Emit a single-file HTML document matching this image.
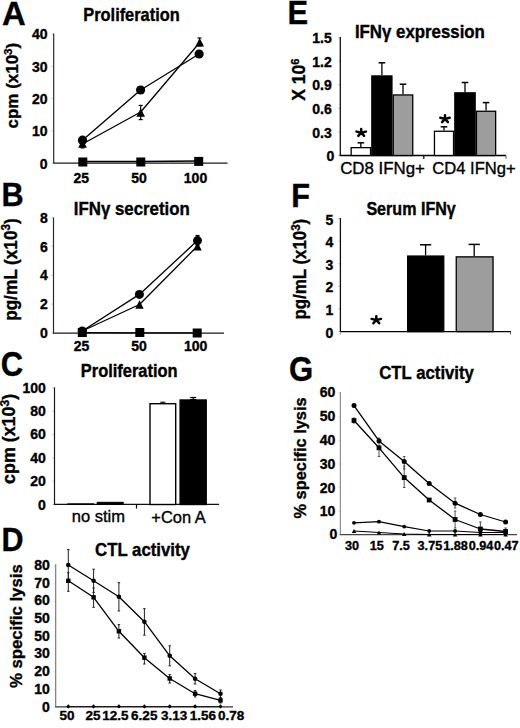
<!DOCTYPE html>
<html><head><meta charset="utf-8"><style>
html,body{margin:0;padding:0;background:#fff;}
body{width:520px;height:728px;overflow:hidden;}
svg{display:block;}
text{font-family:"Liberation Sans", sans-serif;fill:#000;}
</style></head><body>
<svg width="520" height="728" viewBox="0 0 520 728">
<text x="2.1" y="25.4" font-size="32.84" font-weight="bold" text-anchor="start" stroke="#000" stroke-width="0.35">A</text>
<text x="83.3" y="20.9" font-size="16.38" font-weight="bold" text-anchor="start" transform="translate(83.3 20.9) scale(1 1.1) translate(-83.3 -20.9)" stroke="#000" stroke-width="0.35">Proliferation</text>
<line x1="51.5" y1="163.0" x2="53.7" y2="163.0" stroke="#bbb" stroke-width="0.8"/>
<line x1="51.5" y1="130.8" x2="53.7" y2="130.8" stroke="#bbb" stroke-width="0.8"/>
<line x1="51.5" y1="98.6" x2="53.7" y2="98.6" stroke="#bbb" stroke-width="0.8"/>
<line x1="51.5" y1="66.4" x2="53.7" y2="66.4" stroke="#bbb" stroke-width="0.8"/>
<line x1="51.5" y1="34.2" x2="53.7" y2="34.2" stroke="#bbb" stroke-width="0.8"/>
<line x1="53.7" y1="33.6" x2="53.7" y2="163.1" stroke="#2a2a2a" stroke-width="1.2"/>
<line x1="53.1" y1="163.1" x2="227.5" y2="163.1" stroke="#1a1a1a" stroke-width="1.3"/>
<text x="47.6" y="168.77" font-size="14" font-weight="bold" text-anchor="end" stroke="#000" stroke-width="0.35">0</text>
<text x="47.6" y="136.43" font-size="14" font-weight="bold" text-anchor="end" stroke="#000" stroke-width="0.35">10</text>
<text x="47.6" y="104.09" font-size="14" font-weight="bold" text-anchor="end" stroke="#000" stroke-width="0.35">20</text>
<text x="47.6" y="71.75" font-size="14" font-weight="bold" text-anchor="end" stroke="#000" stroke-width="0.35">30</text>
<text x="47.6" y="39.41" font-size="14" font-weight="bold" text-anchor="end" stroke="#000" stroke-width="0.35">40</text>
<text x="81.3" y="182.6" font-size="14" font-weight="bold" text-anchor="middle" stroke="#000" stroke-width="0.35">25</text>
<text x="139" y="182.6" font-size="14" font-weight="bold" text-anchor="middle" stroke="#000" stroke-width="0.35">50</text>
<text x="195.5" y="182.6" font-size="14" font-weight="bold" text-anchor="middle" stroke="#000" stroke-width="0.35">100</text>
<text x="17.66" y="85.64" font-size="16.97" font-weight="bold" text-anchor="middle" transform="rotate(-90 17.66 85.64)" stroke="#000" stroke-width="0.35">cpm (x10<tspan style="font-size:68%" dy="-0.5em">3</tspan><tspan dy="0.34em">)</tspan></text>
<polyline points="82.5,140.2 140.6,90 199.1,54" fill="none" stroke="#000" stroke-width="1.3" stroke-linejoin="round"/>
<polyline points="82.5,144 140.7,112 199.7,42.5" fill="none" stroke="#000" stroke-width="1.3" stroke-linejoin="round"/>
<polyline points="82.8,161.5 140.8,161.5 198.7,161" fill="none" stroke="#000" stroke-width="1.3" stroke-linejoin="round"/>
<line x1="140.7" y1="105.4" x2="140.7" y2="119.6" stroke="#000" stroke-width="1.2"/>
<line x1="138.7" y1="105.4" x2="142.7" y2="105.4" stroke="#000" stroke-width="1.2"/>
<line x1="138.7" y1="119.6" x2="142.7" y2="119.6" stroke="#000" stroke-width="1.2"/>
<line x1="199.5" y1="38" x2="199.5" y2="46" stroke="#000" stroke-width="1.2"/>
<line x1="197.5" y1="38" x2="201.5" y2="38" stroke="#000" stroke-width="1.2"/>
<line x1="197.5" y1="46" x2="201.5" y2="46" stroke="#000" stroke-width="1.2"/>
<line x1="82.5" y1="140" x2="82.5" y2="147.9" stroke="#000" stroke-width="1.2"/>
<line x1="80.5" y1="140" x2="84.5" y2="140" stroke="#000" stroke-width="1.2"/>
<line x1="80.5" y1="147.9" x2="84.5" y2="147.9" stroke="#000" stroke-width="1.2"/>
<circle cx="82.5" cy="140.2" r="4.6" fill="#000"/>
<circle cx="140.6" cy="90" r="4.6" fill="#000"/>
<circle cx="199.1" cy="54" r="4.6" fill="#000"/>
<polygon points="78.2,147.8 86.8,147.8 82.5,139.2" fill="#000"/>
<polygon points="136.4,116.8 145.0,116.8 140.7,108.2" fill="#000"/>
<polygon points="195.4,46.6 204.0,46.6 199.7,38.0" fill="#000"/>
<rect x="78.3" y="157.5" width="9" height="9" fill="#000"/>
<rect x="136.3" y="157.5" width="9" height="9" fill="#000"/>
<rect x="194.2" y="156.9" width="9" height="9" fill="#000"/>
<text x="1.4" y="206.4" font-size="33.01" font-weight="bold" text-anchor="start" transform="translate(1.4 206.4) scale(0.93 1) translate(-1.4 -206.4)" stroke="#000" stroke-width="0.35">B</text>
<text x="73.8" y="214.8" font-size="16.83" font-weight="bold" text-anchor="start" transform="translate(73.8 214.8) scale(1 1.1) translate(-73.8 -214.8)" stroke="#000" stroke-width="0.35">IFNγ secretion</text>
<line x1="51.3" y1="333.0" x2="53.5" y2="333.0" stroke="#bbb" stroke-width="0.8"/>
<line x1="51.3" y1="304.1" x2="53.5" y2="304.1" stroke="#bbb" stroke-width="0.8"/>
<line x1="51.3" y1="275.2" x2="53.5" y2="275.2" stroke="#bbb" stroke-width="0.8"/>
<line x1="51.3" y1="246.3" x2="53.5" y2="246.3" stroke="#bbb" stroke-width="0.8"/>
<line x1="51.3" y1="217.4" x2="53.5" y2="217.4" stroke="#bbb" stroke-width="0.8"/>
<line x1="53.5" y1="217.5" x2="53.5" y2="333.1" stroke="#2a2a2a" stroke-width="1.2"/>
<line x1="52.9" y1="333.1" x2="224" y2="333.1" stroke="#1a1a1a" stroke-width="1.3"/>
<text x="47.8" y="337.67" font-size="14" font-weight="bold" text-anchor="end" stroke="#000" stroke-width="0.35">0</text>
<text x="47.8" y="308.97" font-size="14" font-weight="bold" text-anchor="end" stroke="#000" stroke-width="0.35">2</text>
<text x="47.8" y="280.27" font-size="14" font-weight="bold" text-anchor="end" stroke="#000" stroke-width="0.35">4</text>
<text x="47.8" y="251.57" font-size="14" font-weight="bold" text-anchor="end" stroke="#000" stroke-width="0.35">6</text>
<text x="47.8" y="222.87" font-size="14" font-weight="bold" text-anchor="end" stroke="#000" stroke-width="0.35">8</text>
<text x="81.5" y="351" font-size="14" font-weight="bold" text-anchor="middle" stroke="#000" stroke-width="0.35">25</text>
<text x="139" y="351" font-size="14" font-weight="bold" text-anchor="middle" stroke="#000" stroke-width="0.35">50</text>
<text x="195.6" y="351" font-size="14" font-weight="bold" text-anchor="middle" stroke="#000" stroke-width="0.35">100</text>
<text x="16.6" y="269.6" font-size="17.17" font-weight="bold" text-anchor="middle" transform="rotate(-90 16.6 269.6) translate(16.6 269.6) scale(1 1.06) translate(-16.6 -269.6)" stroke="#000" stroke-width="0.35">pg/mL (x10<tspan style="font-size:68%" dy="-0.5em">3</tspan><tspan dy="0.34em">)</tspan></text>
<polyline points="82.3,331 139.4,294.4 197.5,240.6" fill="none" stroke="#000" stroke-width="1.3" stroke-linejoin="round"/>
<polyline points="82.3,331 139.5,304.5 197.5,246" fill="none" stroke="#000" stroke-width="1.3" stroke-linejoin="round"/>
<polyline points="82.3,332.7 139.8,332.8 197,332.9" fill="none" stroke="#000" stroke-width="1.2" stroke-linejoin="round"/>
<line x1="197.5" y1="235.5" x2="197.5" y2="245" stroke="#000" stroke-width="1.2"/>
<line x1="195.5" y1="235.5" x2="199.5" y2="235.5" stroke="#000" stroke-width="1.2"/>
<line x1="195.5" y1="245" x2="199.5" y2="245" stroke="#000" stroke-width="1.2"/>
<circle cx="82.3" cy="331" r="4.5" fill="#000"/>
<circle cx="139.4" cy="294.4" r="4.5" fill="#000"/>
<circle cx="197.5" cy="240.6" r="4.5" fill="#000"/>
<polygon points="78.1,335.7 86.5,335.7 82.3,327.3" fill="#000"/>
<polygon points="135.3,308.7 143.7,308.7 139.5,300.3" fill="#000"/>
<polygon points="193.3,250.5 201.7,250.5 197.5,242.1" fill="#000"/>
<rect x="77.8" y="328.0" width="9" height="9" fill="#000"/>
<rect x="135.3" y="328.0" width="9" height="9" fill="#000"/>
<rect x="192.7" y="328.5" width="9" height="9" fill="#000"/>
<text x="0.7" y="376.5" font-size="34.85" font-weight="bold" text-anchor="start" transform="translate(0.7 376.5) scale(0.89 1) translate(-0.7 -376.5)" stroke="#000" stroke-width="0.35">C</text>
<text x="80.8" y="377.2" font-size="16.43" font-weight="bold" text-anchor="start" transform="translate(80.8 377.2) scale(1 1.1) translate(-80.8 -377.2)" stroke="#000" stroke-width="0.35">Proliferation</text>
<line x1="52.3" y1="504.5" x2="54.5" y2="504.5" stroke="#bbb" stroke-width="0.8"/>
<line x1="52.3" y1="481.2" x2="54.5" y2="481.2" stroke="#bbb" stroke-width="0.8"/>
<line x1="52.3" y1="457.9" x2="54.5" y2="457.9" stroke="#bbb" stroke-width="0.8"/>
<line x1="52.3" y1="434.6" x2="54.5" y2="434.6" stroke="#bbb" stroke-width="0.8"/>
<line x1="52.3" y1="411.3" x2="54.5" y2="411.3" stroke="#bbb" stroke-width="0.8"/>
<line x1="52.3" y1="388.0" x2="54.5" y2="388.0" stroke="#bbb" stroke-width="0.8"/>
<line x1="54.5" y1="387.3" x2="54.5" y2="504.4" stroke="#1a1a1a" stroke-width="1.2"/>
<line x1="53.9" y1="504.4" x2="219" y2="504.4" stroke="#111" stroke-width="1.4"/>
<text x="45.8" y="509.77" font-size="14" font-weight="bold" text-anchor="end" stroke="#000" stroke-width="0.35">0</text>
<text x="45.8" y="486.33" font-size="14" font-weight="bold" text-anchor="end" stroke="#000" stroke-width="0.35">20</text>
<text x="45.8" y="462.89" font-size="14" font-weight="bold" text-anchor="end" stroke="#000" stroke-width="0.35">40</text>
<text x="45.8" y="439.45" font-size="14" font-weight="bold" text-anchor="end" stroke="#000" stroke-width="0.35">60</text>
<text x="45.8" y="416.01" font-size="14" font-weight="bold" text-anchor="end" stroke="#000" stroke-width="0.35">80</text>
<text x="45.8" y="392.57" font-size="14" font-weight="bold" text-anchor="end" stroke="#000" stroke-width="0.35">100</text>
<line x1="136.5" y1="504.5" x2="136.5" y2="508.5" stroke="#000" stroke-width="1.2"/>
<rect x="67.8" y="503.8" width="25.7" height="0.7" fill="#fff" stroke="#000" stroke-width="1"/>
<rect x="97.2" y="502.3" width="26.0" height="2.2" fill="#000" stroke="#000" stroke-width="1"/>
<rect x="150.0" y="403.7" width="25.7" height="100.8" fill="#fff" stroke="#000" stroke-width="1.4"/>
<rect x="180.1" y="400.0" width="26.1" height="104.5" fill="#000" stroke="#000" stroke-width="1.4"/>
<line x1="193.2" y1="397.5" x2="193.2" y2="399.5" stroke="#000" stroke-width="1.2"/>
<line x1="190.2" y1="397.5" x2="196.2" y2="397.5" stroke="#000" stroke-width="1.2"/>
<line x1="190.2" y1="399.5" x2="196.2" y2="399.5" stroke="#000" stroke-width="1.2"/>
<line x1="162.8" y1="402.2" x2="162.8" y2="403.2" stroke="#000" stroke-width="1.0"/>
<line x1="160.3" y1="402.2" x2="165.3" y2="402.2" stroke="#000" stroke-width="1.0"/>
<line x1="160.3" y1="403.2" x2="165.3" y2="403.2" stroke="#000" stroke-width="1.0"/>
<text x="98.4" y="522.05" font-size="16.55" font-weight="normal" text-anchor="middle" stroke="#000" stroke-width="0.35">no stim</text>
<text x="178.55" y="523.05" font-size="16.45" font-weight="normal" text-anchor="middle" stroke="#000" stroke-width="0.35">+Con A</text>
<text x="15.34" y="438.9" font-size="17.83" font-weight="bold" text-anchor="middle" transform="rotate(-90 15.34 438.9)" stroke="#000" stroke-width="0.35">cpm (x10<tspan style="font-size:68%" dy="-0.5em">3</tspan><tspan dy="0.34em">)</tspan></text>
<text x="1.6" y="551.0" font-size="32.84" font-weight="bold" text-anchor="start" transform="translate(1.6 551.0) scale(0.93 1) translate(-1.6 -551.0)" stroke="#000" stroke-width="0.35">D</text>
<text x="95.1" y="555.9" font-size="16.8" font-weight="bold" text-anchor="start" transform="translate(95.1 555.9) scale(1 1.1) translate(-95.1 -555.9)" stroke="#000" stroke-width="0.35">CTL activity</text>
<line x1="53.5" y1="707.0" x2="55.7" y2="707.0" stroke="#ddd" stroke-width="0.8"/>
<line x1="53.5" y1="689.4" x2="55.7" y2="689.4" stroke="#ddd" stroke-width="0.8"/>
<line x1="53.5" y1="671.8" x2="55.7" y2="671.8" stroke="#ddd" stroke-width="0.8"/>
<line x1="53.5" y1="654.2" x2="55.7" y2="654.2" stroke="#ddd" stroke-width="0.8"/>
<line x1="53.5" y1="636.6" x2="55.7" y2="636.6" stroke="#ddd" stroke-width="0.8"/>
<line x1="53.5" y1="619.0" x2="55.7" y2="619.0" stroke="#ddd" stroke-width="0.8"/>
<line x1="53.5" y1="601.4" x2="55.7" y2="601.4" stroke="#ddd" stroke-width="0.8"/>
<line x1="53.5" y1="583.8" x2="55.7" y2="583.8" stroke="#ddd" stroke-width="0.8"/>
<line x1="53.5" y1="566.2" x2="55.7" y2="566.2" stroke="#ddd" stroke-width="0.8"/>
<line x1="55.7" y1="564.3" x2="55.7" y2="706.8" stroke="#707070" stroke-width="1.1"/>
<line x1="55.15" y1="706.8" x2="233" y2="706.8" stroke="#333" stroke-width="1.2"/>
<text x="49.8" y="711.57" font-size="14" font-weight="bold" text-anchor="end" stroke="#000" stroke-width="0.35">0</text>
<text x="49.8" y="693.87" font-size="14" font-weight="bold" text-anchor="end" stroke="#000" stroke-width="0.35">10</text>
<text x="49.8" y="676.17" font-size="14" font-weight="bold" text-anchor="end" stroke="#000" stroke-width="0.35">20</text>
<text x="49.8" y="658.47" font-size="14" font-weight="bold" text-anchor="end" stroke="#000" stroke-width="0.35">30</text>
<text x="49.8" y="640.77" font-size="14" font-weight="bold" text-anchor="end" stroke="#000" stroke-width="0.35">50</text>
<text x="49.8" y="623.07" font-size="14" font-weight="bold" text-anchor="end" stroke="#000" stroke-width="0.35">50</text>
<text x="49.8" y="605.37" font-size="14" font-weight="bold" text-anchor="end" stroke="#000" stroke-width="0.35">60</text>
<text x="49.8" y="587.67" font-size="14" font-weight="bold" text-anchor="end" stroke="#000" stroke-width="0.35">70</text>
<text x="49.8" y="569.97" font-size="14" font-weight="bold" text-anchor="end" stroke="#000" stroke-width="0.35">80</text>
<text x="66.95" y="719.8" font-size="13.5" font-weight="bold" text-anchor="middle" stroke="#000" stroke-width="0.35">50</text>
<text x="93.1" y="719.8" font-size="13.5" font-weight="bold" text-anchor="middle" stroke="#000" stroke-width="0.35">25</text>
<text x="115.4" y="719.8" font-size="13.5" font-weight="bold" text-anchor="middle" stroke="#000" stroke-width="0.35">12.5</text>
<text x="144.25" y="719.8" font-size="13.5" font-weight="bold" text-anchor="middle" stroke="#000" stroke-width="0.35">6.25</text>
<text x="174.1" y="719.8" font-size="13.5" font-weight="bold" text-anchor="middle" stroke="#000" stroke-width="0.35">3.13</text>
<text x="202.8" y="719.8" font-size="13.5" font-weight="bold" text-anchor="middle" stroke="#000" stroke-width="0.35">1.56</text>
<text x="231.2" y="719.8" font-size="13.5" font-weight="bold" text-anchor="middle" stroke="#000" stroke-width="0.35">0.78</text>
<text x="21.8" y="626.2" font-size="16.76" font-weight="bold" text-anchor="middle" transform="rotate(-90 21.8 626.2)" stroke="#000" stroke-width="0.35">% specific lysis</text>
<line x1="68.3" y1="549.6" x2="68.3" y2="580.4" stroke="#222" stroke-width="1.0"/>
<line x1="67.05" y1="549.6" x2="69.55" y2="549.6" stroke="#222" stroke-width="1.0"/>
<line x1="67.05" y1="580.4" x2="69.55" y2="580.4" stroke="#222" stroke-width="1.0"/>
<line x1="93.6" y1="569.2" x2="93.6" y2="592.4" stroke="#222" stroke-width="1.0"/>
<line x1="92.35" y1="569.2" x2="94.85" y2="569.2" stroke="#222" stroke-width="1.0"/>
<line x1="92.35" y1="592.4" x2="94.85" y2="592.4" stroke="#222" stroke-width="1.0"/>
<line x1="118.9" y1="582.7" x2="118.9" y2="611" stroke="#222" stroke-width="1.0"/>
<line x1="117.65" y1="582.7" x2="120.15" y2="582.7" stroke="#222" stroke-width="1.0"/>
<line x1="117.65" y1="611" x2="120.15" y2="611" stroke="#222" stroke-width="1.0"/>
<line x1="144.4" y1="608.7" x2="144.4" y2="635.2" stroke="#222" stroke-width="1.0"/>
<line x1="143.15" y1="608.7" x2="145.65" y2="608.7" stroke="#222" stroke-width="1.0"/>
<line x1="143.15" y1="635.2" x2="145.65" y2="635.2" stroke="#222" stroke-width="1.0"/>
<line x1="169.7" y1="645.8" x2="169.7" y2="665.8" stroke="#222" stroke-width="1.0"/>
<line x1="168.45" y1="645.8" x2="170.95" y2="645.8" stroke="#222" stroke-width="1.0"/>
<line x1="168.45" y1="665.8" x2="170.95" y2="665.8" stroke="#222" stroke-width="1.0"/>
<line x1="195.1" y1="673.5" x2="195.1" y2="684" stroke="#222" stroke-width="1.0"/>
<line x1="193.85" y1="673.5" x2="196.35" y2="673.5" stroke="#222" stroke-width="1.0"/>
<line x1="193.85" y1="684" x2="196.35" y2="684" stroke="#222" stroke-width="1.0"/>
<line x1="220.5" y1="690" x2="220.5" y2="697.5" stroke="#222" stroke-width="1.0"/>
<line x1="219.25" y1="690" x2="221.75" y2="690" stroke="#222" stroke-width="1.0"/>
<line x1="219.25" y1="697.5" x2="221.75" y2="697.5" stroke="#222" stroke-width="1.0"/>
<line x1="68.3" y1="572.7" x2="68.3" y2="591.3" stroke="#222" stroke-width="1.0"/>
<line x1="67.05" y1="572.7" x2="69.55" y2="572.7" stroke="#222" stroke-width="1.0"/>
<line x1="67.05" y1="591.3" x2="69.55" y2="591.3" stroke="#222" stroke-width="1.0"/>
<line x1="93.6" y1="588" x2="93.6" y2="607.3" stroke="#222" stroke-width="1.0"/>
<line x1="92.35" y1="588" x2="94.85" y2="588" stroke="#222" stroke-width="1.0"/>
<line x1="92.35" y1="607.3" x2="94.85" y2="607.3" stroke="#222" stroke-width="1.0"/>
<line x1="118.9" y1="624.6" x2="118.9" y2="638" stroke="#222" stroke-width="1.0"/>
<line x1="117.65" y1="624.6" x2="120.15" y2="624.6" stroke="#222" stroke-width="1.0"/>
<line x1="117.65" y1="638" x2="120.15" y2="638" stroke="#222" stroke-width="1.0"/>
<line x1="144.4" y1="653.5" x2="144.4" y2="664" stroke="#222" stroke-width="1.0"/>
<line x1="143.15" y1="653.5" x2="145.65" y2="653.5" stroke="#222" stroke-width="1.0"/>
<line x1="143.15" y1="664" x2="145.65" y2="664" stroke="#222" stroke-width="1.0"/>
<line x1="169.7" y1="674.6" x2="169.7" y2="683" stroke="#222" stroke-width="1.0"/>
<line x1="168.45" y1="674.6" x2="170.95" y2="674.6" stroke="#222" stroke-width="1.0"/>
<line x1="168.45" y1="683" x2="170.95" y2="683" stroke="#222" stroke-width="1.0"/>
<line x1="195.1" y1="690.5" x2="195.1" y2="697" stroke="#222" stroke-width="1.0"/>
<line x1="193.85" y1="690.5" x2="196.35" y2="690.5" stroke="#222" stroke-width="1.0"/>
<line x1="193.85" y1="697" x2="196.35" y2="697" stroke="#222" stroke-width="1.0"/>
<line x1="220.5" y1="698" x2="220.5" y2="703" stroke="#222" stroke-width="1.0"/>
<line x1="219.25" y1="698" x2="221.75" y2="698" stroke="#222" stroke-width="1.0"/>
<line x1="219.25" y1="703" x2="221.75" y2="703" stroke="#222" stroke-width="1.0"/>
<polyline points="68.3,565 93.6,580.8 118.9,596.7 144.4,621.7 169.7,655.8 195.1,678.8 220.5,693.7" fill="none" stroke="#000" stroke-width="1.3" stroke-linejoin="round"/>
<polyline points="68.3,580.8 93.6,597.3 118.9,631.3 144.4,657.7 169.7,678.5 195.1,693.7 220.5,700.4" fill="none" stroke="#000" stroke-width="1.3" stroke-linejoin="round"/>
<polyline points="68.3,706.6 93.6,706.6 118.9,706.6 144.4,706.6 169.7,706.6 195.1,706.6 220.5,706.6" fill="none" stroke="#000" stroke-width="0.8" stroke-linejoin="round"/>
<circle cx="68.3" cy="565" r="2.3" fill="#000"/>
<circle cx="93.6" cy="580.8" r="2.3" fill="#000"/>
<circle cx="118.9" cy="596.7" r="2.3" fill="#000"/>
<circle cx="144.4" cy="621.7" r="2.3" fill="#000"/>
<circle cx="169.7" cy="655.8" r="2.3" fill="#000"/>
<circle cx="195.1" cy="678.8" r="2.3" fill="#000"/>
<circle cx="220.5" cy="693.7" r="2.3" fill="#000"/>
<rect x="66.1" y="578.6" width="4.4" height="4.4" fill="#000"/>
<rect x="91.4" y="595.1" width="4.4" height="4.4" fill="#000"/>
<rect x="116.7" y="629.1" width="4.4" height="4.4" fill="#000"/>
<rect x="142.2" y="655.5" width="4.4" height="4.4" fill="#000"/>
<rect x="167.5" y="676.3" width="4.4" height="4.4" fill="#000"/>
<rect x="192.9" y="691.5" width="4.4" height="4.4" fill="#000"/>
<rect x="218.3" y="698.2" width="4.4" height="4.4" fill="#000"/>
<polygon points="68.3,704.3 70.39999999999999,706.4 68.3,708.5 66.2,706.4" fill="#000"/>
<polygon points="93.6,704.3 95.69999999999999,706.4 93.6,708.5 91.5,706.4" fill="#000"/>
<polygon points="118.9,704.3 121.0,706.4 118.9,708.5 116.80000000000001,706.4" fill="#000"/>
<polygon points="144.4,704.3 146.5,706.4 144.4,708.5 142.3,706.4" fill="#000"/>
<polygon points="169.7,704.3 171.79999999999998,706.4 169.7,708.5 167.6,706.4" fill="#000"/>
<polygon points="195.1,704.3 197.2,706.4 195.1,708.5 193.0,706.4" fill="#000"/>
<polygon points="220.5,704.3 222.6,706.4 220.5,708.5 218.4,706.4" fill="#000"/>
<text x="287.5" y="23.6" font-size="32.84" font-weight="bold" text-anchor="start" transform="translate(287.5 23.6) scale(0.94 1) translate(-287.5 -23.6)" stroke="#000" stroke-width="0.35">E</text>
<text x="354.9" y="38.4" font-size="16.83" font-weight="bold" text-anchor="start" transform="translate(354.9 38.4) scale(1 1.1) translate(-354.9 -38.4)" stroke="#000" stroke-width="0.35">IFNγ expression</text>
<line x1="338.1" y1="155.5" x2="340.3" y2="155.5" stroke="#bbb" stroke-width="0.8"/>
<line x1="338.1" y1="131.9" x2="340.3" y2="131.9" stroke="#bbb" stroke-width="0.8"/>
<line x1="338.1" y1="108.3" x2="340.3" y2="108.3" stroke="#bbb" stroke-width="0.8"/>
<line x1="338.1" y1="84.7" x2="340.3" y2="84.7" stroke="#bbb" stroke-width="0.8"/>
<line x1="338.1" y1="61.1" x2="340.3" y2="61.1" stroke="#bbb" stroke-width="0.8"/>
<line x1="338.1" y1="37.5" x2="340.3" y2="37.5" stroke="#bbb" stroke-width="0.8"/>
<line x1="340.3" y1="37.1" x2="340.3" y2="155.5" stroke="#111" stroke-width="1.3"/>
<line x1="339.65" y1="155.5" x2="506" y2="155.5" stroke="#000" stroke-width="1.5"/>
<text x="331.8" y="137.51" font-size="14" font-weight="bold" text-anchor="end" stroke="#000" stroke-width="0.35">0.3</text>
<text x="331.8" y="113.95" font-size="14" font-weight="bold" text-anchor="end" stroke="#000" stroke-width="0.35">0.6</text>
<text x="331.8" y="90.39" font-size="14" font-weight="bold" text-anchor="end" stroke="#000" stroke-width="0.35">0.9</text>
<text x="331.8" y="66.83" font-size="14" font-weight="bold" text-anchor="end" stroke="#000" stroke-width="0.35">1.2</text>
<text x="331.8" y="43.27" font-size="14" font-weight="bold" text-anchor="end" stroke="#000" stroke-width="0.35">1.5</text>
<text x="334.2" y="161.07" font-size="14" font-weight="bold" text-anchor="end" stroke="#000" stroke-width="0.35">0</text>
<line x1="423.8" y1="155.5" x2="423.8" y2="159" stroke="#000" stroke-width="1.2"/>
<line x1="506" y1="155.5" x2="506" y2="158.8" stroke="#555" stroke-width="1"/>
<line x1="360.85" y1="142.8" x2="360.85" y2="147" stroke="#000" stroke-width="1.3"/>
<line x1="357.55" y1="142.8" x2="364.15" y2="142.8" stroke="#000" stroke-width="1.5"/>
<rect x="351.15" y="147.65" width="19.4" height="7.85" fill="#fff" stroke="#000" stroke-width="1.3"/>
<line x1="381.9" y1="62.8" x2="381.9" y2="75.3" stroke="#000" stroke-width="1.3"/>
<line x1="378.6" y1="62.8" x2="385.2" y2="62.8" stroke="#000" stroke-width="1.5"/>
<rect x="371.85" y="75.95" width="20.1" height="79.55" fill="#000" stroke="#000" stroke-width="1.3"/>
<line x1="403.0" y1="84.2" x2="403.0" y2="94.3" stroke="#000" stroke-width="1.3"/>
<line x1="399.7" y1="84.2" x2="406.3" y2="84.2" stroke="#000" stroke-width="1.5"/>
<rect x="393.25" y="94.95" width="19.5" height="60.55" fill="#9d9d9d" stroke="#000" stroke-width="1.3"/>
<line x1="444.0" y1="126.8" x2="444.0" y2="130.6" stroke="#000" stroke-width="1.3"/>
<line x1="440.7" y1="126.8" x2="447.3" y2="126.8" stroke="#000" stroke-width="1.5"/>
<rect x="434.45" y="131.25" width="19.1" height="24.25" fill="#fff" stroke="#000" stroke-width="1.3"/>
<line x1="465.0" y1="82.5" x2="465.0" y2="92.2" stroke="#000" stroke-width="1.3"/>
<line x1="461.7" y1="82.5" x2="468.3" y2="82.5" stroke="#000" stroke-width="1.5"/>
<rect x="454.85" y="92.85" width="20.3" height="62.65" fill="#000" stroke="#000" stroke-width="1.3"/>
<line x1="486.05" y1="102.6" x2="486.05" y2="110.6" stroke="#000" stroke-width="1.3"/>
<line x1="482.75" y1="102.6" x2="489.35" y2="102.6" stroke="#000" stroke-width="1.5"/>
<rect x="476.45" y="111.25" width="19.2" height="44.25" fill="#9d9d9d" stroke="#000" stroke-width="1.3"/>
<path d="M361.2,132.7 l0.0,-3.7 M361.2,132.7 l4.7,-1.1 M361.2,132.7 l-4.7,-1.1 M361.2,132.7 l2.9,3.2 M361.2,132.7 l-2.9,3.2" stroke="#000" stroke-width="2.5" stroke-linecap="round" fill="none"/>
<path d="M445,118.9 l0.0,-3.7 M445,118.9 l4.7,-1.1 M445,118.9 l-4.7,-1.1 M445,118.9 l2.9,3.2 M445,118.9 l-2.9,3.2" stroke="#000" stroke-width="2.5" stroke-linecap="round" fill="none"/>
<text x="340.2" y="174.0" font-size="16.85" font-weight="normal" text-anchor="start" stroke="#000" stroke-width="0.35">CD8 IFNg+</text>
<text x="432.2" y="174.0" font-size="16.62" font-weight="normal" text-anchor="start" stroke="#000" stroke-width="0.35">CD4 IFNg+</text>
<text x="305.2" y="79.7" font-size="17.6" font-weight="bold" text-anchor="middle" transform="rotate(-90 305.2 79.7)" stroke="#000" stroke-width="0.35">X 10<tspan style="font-size:62%" dy="-0.6em">6</tspan></text>
<text x="291.2" y="207.2" font-size="33.01" font-weight="bold" text-anchor="start" transform="translate(291.2 207.2) scale(0.93 1) translate(-291.2 -207.2)" stroke="#000" stroke-width="0.35">F</text>
<text x="366.4" y="215.1" font-size="16.09" font-weight="bold" text-anchor="start" transform="translate(366.4 215.1) scale(1 1.1) translate(-366.4 -215.1)" stroke="#000" stroke-width="0.35">Serum IFNγ</text>
<line x1="338.2" y1="331.6" x2="340.4" y2="331.6" stroke="#bbb" stroke-width="0.8"/>
<line x1="338.2" y1="309.0" x2="340.4" y2="309.0" stroke="#bbb" stroke-width="0.8"/>
<line x1="338.2" y1="286.4" x2="340.4" y2="286.4" stroke="#bbb" stroke-width="0.8"/>
<line x1="338.2" y1="263.8" x2="340.4" y2="263.8" stroke="#bbb" stroke-width="0.8"/>
<line x1="338.2" y1="241.2" x2="340.4" y2="241.2" stroke="#bbb" stroke-width="0.8"/>
<line x1="338.2" y1="218.6" x2="340.4" y2="218.6" stroke="#bbb" stroke-width="0.8"/>
<line x1="340.4" y1="218" x2="340.4" y2="331.6" stroke="#111" stroke-width="1.3"/>
<line x1="339.75" y1="331.6" x2="511" y2="331.6" stroke="#000" stroke-width="1.3"/>
<line x1="510.5" y1="331.6" x2="510.5" y2="334.5" stroke="#555" stroke-width="1"/>
<line x1="340.4" y1="331.6" x2="340.4" y2="334.5" stroke="#999" stroke-width="1"/>
<text x="333.3" y="337.57" font-size="14" font-weight="bold" text-anchor="end" stroke="#000" stroke-width="0.35">0</text>
<text x="333.3" y="314.97" font-size="14" font-weight="bold" text-anchor="end" stroke="#000" stroke-width="0.35">1</text>
<text x="333.3" y="292.37" font-size="14" font-weight="bold" text-anchor="end" stroke="#000" stroke-width="0.35">2</text>
<text x="333.3" y="269.77" font-size="14" font-weight="bold" text-anchor="end" stroke="#000" stroke-width="0.35">3</text>
<text x="333.3" y="247.17" font-size="14" font-weight="bold" text-anchor="end" stroke="#000" stroke-width="0.35">4</text>
<text x="333.3" y="224.57" font-size="14" font-weight="bold" text-anchor="end" stroke="#000" stroke-width="0.35">5</text>
<line x1="425.6" y1="244.8" x2="425.6" y2="255.4" stroke="#000" stroke-width="1.3"/>
<line x1="420.0" y1="244.8" x2="431.2" y2="244.8" stroke="#000" stroke-width="1.5"/>
<rect x="407.65" y="256.05" width="36.1" height="75.55" fill="#000" stroke="#000" stroke-width="1.3"/>
<line x1="474.2" y1="244.4" x2="474.2" y2="256.2" stroke="#000" stroke-width="1.3"/>
<line x1="468.6" y1="244.4" x2="479.8" y2="244.4" stroke="#000" stroke-width="1.5"/>
<rect x="456.25" y="256.85" width="36.8" height="74.75" fill="#9d9d9d" stroke="#000" stroke-width="1.3"/>
<path d="M376.3,320 l0.0,-3.7 M376.3,320 l4.7,-1.1 M376.3,320 l-4.7,-1.1 M376.3,320 l2.9,3.2 M376.3,320 l-2.9,3.2" stroke="#000" stroke-width="2.5" stroke-linecap="round" fill="none"/>
<text x="305.8" y="269.2" font-size="16.88" font-weight="bold" text-anchor="middle" transform="rotate(-90 305.8 269.2) translate(305.8 269.2) scale(1 1.06) translate(-305.8 -269.2)" stroke="#000" stroke-width="0.35">pg/mL (x10<tspan style="font-size:68%" dy="-0.5em">3</tspan><tspan dy="0.34em">)</tspan></text>
<text x="289.0" y="380.8" font-size="34.57" font-weight="bold" text-anchor="start" transform="translate(289.0 380.8) scale(0.9 1) translate(-289.0 -380.8)" stroke="#000" stroke-width="0.35">G</text>
<text x="379.2" y="379.4" font-size="16.79" font-weight="bold" text-anchor="start" transform="translate(379.2 379.4) scale(1 1.1) translate(-379.2 -379.4)" stroke="#000" stroke-width="0.35">CTL activity</text>
<line x1="338.1" y1="535.0" x2="340.3" y2="535.0" stroke="#ddd" stroke-width="0.8"/>
<line x1="338.1" y1="511.32" x2="340.3" y2="511.32" stroke="#ddd" stroke-width="0.8"/>
<line x1="338.1" y1="487.64" x2="340.3" y2="487.64" stroke="#ddd" stroke-width="0.8"/>
<line x1="338.1" y1="463.96" x2="340.3" y2="463.96" stroke="#ddd" stroke-width="0.8"/>
<line x1="338.1" y1="440.28" x2="340.3" y2="440.28" stroke="#ddd" stroke-width="0.8"/>
<line x1="338.1" y1="416.6" x2="340.3" y2="416.6" stroke="#ddd" stroke-width="0.8"/>
<line x1="338.1" y1="392.92" x2="340.3" y2="392.92" stroke="#ddd" stroke-width="0.8"/>
<line x1="340.3" y1="392" x2="340.3" y2="534.7" stroke="#777" stroke-width="1.0"/>
<line x1="339.8" y1="534.7" x2="517" y2="534.7" stroke="#444" stroke-width="1.2"/>
<text x="335.4" y="516.42" font-size="14" font-weight="bold" text-anchor="end" stroke="#000" stroke-width="0.35">10</text>
<text x="335.4" y="492.67" font-size="14" font-weight="bold" text-anchor="end" stroke="#000" stroke-width="0.35">20</text>
<text x="335.4" y="468.97" font-size="14" font-weight="bold" text-anchor="end" stroke="#000" stroke-width="0.35">30</text>
<text x="335.4" y="444.97" font-size="14" font-weight="bold" text-anchor="end" stroke="#000" stroke-width="0.35">40</text>
<text x="335.4" y="420.77" font-size="14" font-weight="bold" text-anchor="end" stroke="#000" stroke-width="0.35">50</text>
<text x="335.4" y="396.57" font-size="14" font-weight="bold" text-anchor="end" stroke="#000" stroke-width="0.35">60</text>
<text x="337.2" y="538.97" font-size="14" font-weight="bold" text-anchor="end" stroke="#000" stroke-width="0.35">0</text>
<text x="352.1" y="550.4" font-size="12.7" font-weight="bold" text-anchor="middle" stroke="#000" stroke-width="0.35">30</text>
<text x="376.8" y="550.4" font-size="12.7" font-weight="bold" text-anchor="middle" stroke="#000" stroke-width="0.35">15</text>
<text x="401" y="550.4" font-size="12.7" font-weight="bold" text-anchor="middle" stroke="#000" stroke-width="0.35">7.5</text>
<text x="429.9" y="550.4" font-size="12.7" font-weight="bold" text-anchor="middle" stroke="#000" stroke-width="0.35">3.75</text>
<text x="455.5" y="550.4" font-size="12.7" font-weight="bold" text-anchor="middle" stroke="#000" stroke-width="0.35">1.88</text>
<text x="481" y="550.4" font-size="12.7" font-weight="bold" text-anchor="middle" stroke="#000" stroke-width="0.35">0.94</text>
<text x="506.3" y="550.4" font-size="12.7" font-weight="bold" text-anchor="middle" stroke="#000" stroke-width="0.35">0.47</text>
<text x="306.0" y="458.0" font-size="16.4" font-weight="bold" text-anchor="middle" transform="rotate(-90 306.0 458.0)" stroke="#000" stroke-width="0.35">% specific lysis</text>
<line x1="404.2" y1="456.5" x2="404.2" y2="469" stroke="#444" stroke-width="0.9"/>
<line x1="402.95" y1="456.5" x2="405.45" y2="456.5" stroke="#444" stroke-width="0.9"/>
<line x1="402.95" y1="469" x2="405.45" y2="469" stroke="#444" stroke-width="0.9"/>
<line x1="455.1" y1="498" x2="455.1" y2="508" stroke="#444" stroke-width="0.9"/>
<line x1="453.85" y1="498" x2="456.35" y2="498" stroke="#444" stroke-width="0.9"/>
<line x1="453.85" y1="508" x2="456.35" y2="508" stroke="#444" stroke-width="0.9"/>
<line x1="354" y1="418" x2="354" y2="423" stroke="#444" stroke-width="0.9"/>
<line x1="352.75" y1="418" x2="355.25" y2="418" stroke="#444" stroke-width="0.9"/>
<line x1="352.75" y1="423" x2="355.25" y2="423" stroke="#444" stroke-width="0.9"/>
<line x1="379" y1="438" x2="379" y2="456.5" stroke="#444" stroke-width="0.9"/>
<line x1="377.75" y1="438" x2="380.25" y2="438" stroke="#444" stroke-width="0.9"/>
<line x1="377.75" y1="456.5" x2="380.25" y2="456.5" stroke="#444" stroke-width="0.9"/>
<line x1="404.2" y1="466" x2="404.2" y2="487.5" stroke="#444" stroke-width="0.9"/>
<line x1="402.95" y1="466" x2="405.45" y2="466" stroke="#444" stroke-width="0.9"/>
<line x1="402.95" y1="487.5" x2="405.45" y2="487.5" stroke="#444" stroke-width="0.9"/>
<line x1="455.1" y1="511" x2="455.1" y2="528" stroke="#444" stroke-width="0.9"/>
<line x1="453.85" y1="511" x2="456.35" y2="511" stroke="#444" stroke-width="0.9"/>
<line x1="453.85" y1="528" x2="456.35" y2="528" stroke="#444" stroke-width="0.9"/>
<line x1="480.4" y1="522" x2="480.4" y2="532" stroke="#444" stroke-width="0.9"/>
<line x1="479.15" y1="522" x2="481.65" y2="522" stroke="#444" stroke-width="0.9"/>
<line x1="479.15" y1="532" x2="481.65" y2="532" stroke="#444" stroke-width="0.9"/>
<line x1="505.6" y1="528" x2="505.6" y2="534" stroke="#444" stroke-width="0.9"/>
<line x1="504.35" y1="528" x2="506.85" y2="528" stroke="#444" stroke-width="0.9"/>
<line x1="504.35" y1="534" x2="506.85" y2="534" stroke="#444" stroke-width="0.9"/>
<polyline points="354,405.6 379,440.9 404.2,461.6 429.2,483.5 455.1,503.2 480.4,514.5 505.6,522" fill="none" stroke="#000" stroke-width="1.3" stroke-linejoin="round"/>
<polyline points="354,420.5 379,447.8 404.2,477.6 429.2,500 455.1,519.5 480.4,529 505.6,531.5" fill="none" stroke="#000" stroke-width="1.3" stroke-linejoin="round"/>
<polyline points="354,522.8 379,521.7 404.2,526.6 429.2,531 455.1,531 480.4,532.5 505.6,532.5" fill="none" stroke="#000" stroke-width="1.2" stroke-linejoin="round"/>
<polyline points="354,531 379,532.5 404.2,534 429.2,534.5 455.1,534.5 480.4,534.5 505.6,534.5" fill="none" stroke="#000" stroke-width="1.2" stroke-linejoin="round"/>
<circle cx="354" cy="405.6" r="2.5" fill="#000"/>
<circle cx="379" cy="440.9" r="2.5" fill="#000"/>
<circle cx="404.2" cy="461.6" r="2.5" fill="#000"/>
<circle cx="429.2" cy="483.5" r="2.5" fill="#000"/>
<circle cx="455.1" cy="503.2" r="2.5" fill="#000"/>
<circle cx="480.4" cy="514.5" r="2.5" fill="#000"/>
<circle cx="505.6" cy="522" r="2.5" fill="#000"/>
<rect x="351.6" y="418.1" width="4.8" height="4.8" fill="#000"/>
<rect x="376.6" y="445.4" width="4.8" height="4.8" fill="#000"/>
<rect x="401.8" y="475.2" width="4.8" height="4.8" fill="#000"/>
<rect x="426.8" y="497.6" width="4.8" height="4.8" fill="#000"/>
<rect x="452.7" y="517.1" width="4.8" height="4.8" fill="#000"/>
<rect x="478.0" y="526.6" width="4.8" height="4.8" fill="#000"/>
<rect x="503.2" y="529.1" width="4.8" height="4.8" fill="#000"/>
<circle cx="354" cy="522.8" r="1.9" fill="#000"/>
<circle cx="379" cy="521.7" r="1.9" fill="#000"/>
<circle cx="404.2" cy="526.6" r="1.9" fill="#000"/>
<circle cx="429.2" cy="531" r="1.9" fill="#000"/>
<circle cx="455.1" cy="531" r="1.9" fill="#000"/>
<circle cx="480.4" cy="532.5" r="1.9" fill="#000"/>
<circle cx="505.6" cy="532.5" r="1.9" fill="#000"/>
<polygon points="351.75,533.0 356.25,533.0 354,529.0" fill="#000"/>
<polygon points="376.75,534.5 381.25,534.5 379,530.5" fill="#000"/>
<polygon points="401.95,536.0 406.45,536.0 404.2,532.0" fill="#000"/>
<polygon points="426.95,536.5 431.45,536.5 429.2,532.5" fill="#000"/>
<polygon points="452.85,536.5 457.35,536.5 455.1,532.5" fill="#000"/>
<polygon points="478.15,536.5 482.65,536.5 480.4,532.5" fill="#000"/>
<polygon points="503.35,536.5 507.85,536.5 505.6,532.5" fill="#000"/>
</svg>
</body></html>
